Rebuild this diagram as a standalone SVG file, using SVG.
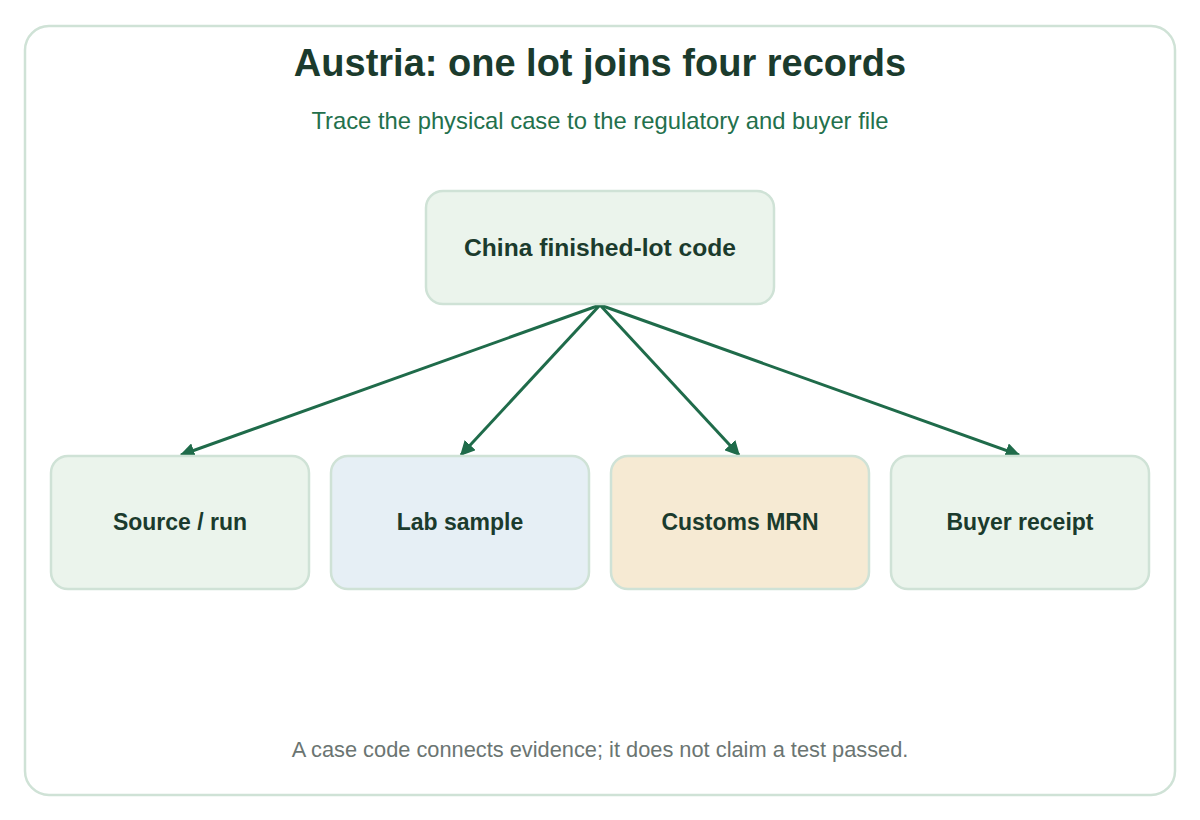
<svg xmlns="http://www.w3.org/2000/svg" width="1200" height="820" viewBox="0 0 1200 820">
<style>
.node rect{stroke:#cfe2d6;stroke-width:2.5}
.lbl{font-family:"Liberation Sans",Arial,sans-serif;font-weight:bold;font-size:23px;fill:#1b3b2d;text-anchor:middle}
.edge{stroke:#1f6b4a;stroke-width:3;fill:none;marker-end:url(#ah)}
</style>
<defs>
<marker id="ah" viewBox="0 0 10 10" refX="9" refY="5" markerWidth="5" markerHeight="5" orient="auto" markerUnits="strokeWidth">
<path d="M0,0 L10,5 L0,10 z" fill="#1f6b4a"/>
</marker>
</defs>
<rect x="0" y="0" width="1200" height="820" fill="#ffffff"/>
<rect x="25" y="26" width="1150" height="769" rx="24" fill="#ffffff" stroke="#cfe2d6" stroke-width="2.5"/>
<text x="600" y="76" font-family="Liberation Sans,Arial,sans-serif" font-weight="bold" font-size="38" fill="#1b3b2d" text-anchor="middle">Austria: one lot joins four records</text>
<text x="600" y="129" font-family="Liberation Sans,Arial,sans-serif" font-size="23.8" fill="#23704c" text-anchor="middle">Trace the physical case to the regulatory and buyer file</text>
<g id="connectors">
<line class="edge" x1="600" y1="305" x2="181" y2="455"/>
<line class="edge" x1="600" y1="305" x2="461" y2="455"/>
<line class="edge" x1="600" y1="305" x2="739" y2="455"/>
<line class="edge" x1="600" y1="305" x2="1019" y2="455"/>
</g>
<g id="lot" class="node"><rect x="426" y="191" width="348" height="113" rx="17" fill="#ebf4ec"/><text class="lbl" x="600" y="256" style="font-size:24.6px">China finished-lot code</text></g>
<g id="source" class="node"><rect x="51" y="456" width="258" height="133" rx="17" fill="#ebf4ec"/><text class="lbl" x="180" y="530">Source / run</text></g>
<g id="lab" class="node"><rect x="331" y="456" width="258" height="133" rx="17" fill="#e6eff5"/><text class="lbl" x="460" y="530">Lab sample</text></g>
<g id="customs" class="node"><rect x="611" y="456" width="258" height="133" rx="17" fill="#f6ead3"/><text class="lbl" x="740" y="530">Customs MRN</text></g>
<g id="buyer" class="node"><rect x="891" y="456" width="258" height="133" rx="17" fill="#ebf4ec"/><text class="lbl" x="1020" y="530">Buyer receipt</text></g>
<text x="600" y="757" font-family="Liberation Sans,Arial,sans-serif" font-size="21.8" fill="#6b7572" text-anchor="middle">A case code connects evidence; it does not claim a test passed.</text>
</svg>
